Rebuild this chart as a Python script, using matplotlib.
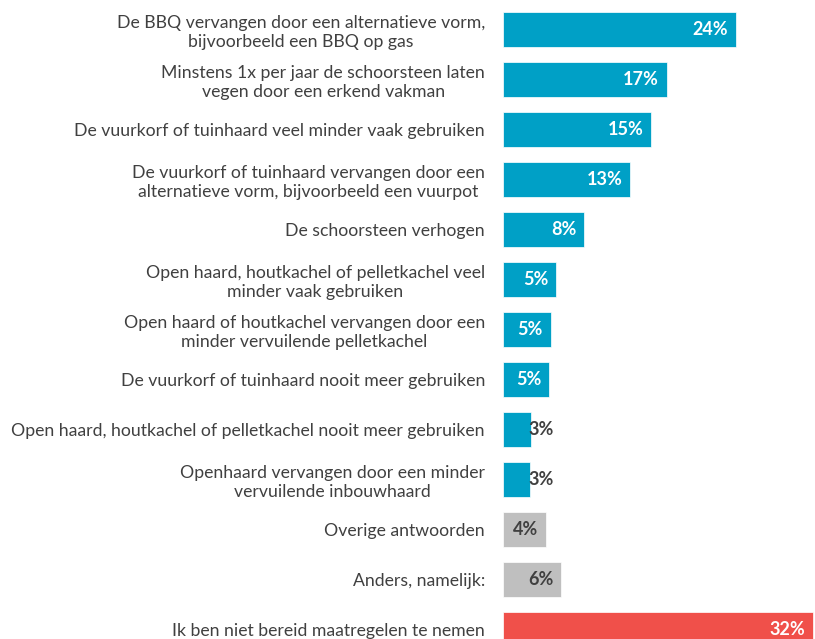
import matplotlib
matplotlib.use("Agg")
import matplotlib.pyplot as plt

categories = [
    "De BBQ vervangen door een alternatieve vorm,\nbijvoorbeeld een BBQ op gas",
    "Minstens 1x per jaar de schoorsteen laten\nvegen door een erkend vakman",
    "De vuurkorf of tuinhaard veel minder vaak gebruiken",
    "De vuurkorf of tuinhaard vervangen door een\nalternatieve vorm, bijvoorbeeld een vuurpot",
    "De schoorsteen verhogen",
    "Open haard, houtkachel of pelletkachel veel\nminder vaak gebruiken",
    "Open haard of houtkachel vervangen door een\nminder vervuilende pelletkachel",
    "De vuurkorf of tuinhaard nooit meer gebruiken",
    "Open haard, houtkachel of pelletkachel nooit meer gebruiken",
    "Openhaard vervangen door een minder\nvervuilende inbouwhaard",
    "Overige antwoorden",
    "Anders, namelijk:",
    "Ik ben niet bereid maatregelen te nemen",
]
values = [24.0, 16.9, 15.3, 13.1, 8.35, 5.45, 4.9, 4.77, 2.9, 2.8, 4.4, 6.0, 32.0]
groups = ["blue"] * 10 + ["gray"] * 2 + ["red"]

BLUE = "#00A0C6"
GRAY = "#BFBFBF"
RED = "#F0504A"
TEXT = "#404040"
colmap = {"blue": BLUE, "gray": GRAY, "red": RED}

FONT = ["Lato", "DejaVu Sans"]
plt.rcParams["font.family"] = FONT

W, H = 815, 639
fig = plt.figure(figsize=(W / 100, H / 100), dpi=100)
x0 = 503 / W
ax = fig.add_axes([x0, 0, 1 - x0, 1])

n = len(values)
ypos = list(range(n))
ax.barh(ypos, values, height=0.7, color=[colmap[g] for g in groups],
        edgecolor="white", linewidth=0.5)

ax.set_xlim(0, (W - 503) / 9.7)
top = -29.5 / 50
ax.set_ylim(top + H / 50, top)

ax.set_yticks(ypos)
ax.set_yticklabels(categories, fontsize=12.7, color=TEXT, linespacing=1.2)
for lbl in ax.get_yticklabels():
    lbl.set_multialignment("center")
ax.tick_params(axis="y", length=0, pad=13)
ax.tick_params(axis="x", bottom=False, labelbottom=False)
for s in ax.spines.values():
    s.set_visible(False)

for i, (v, g) in enumerate(zip(values, groups)):
    small = v < 4
    col = TEXT if (g == "gray" or small) else "white"
    xt = 5.2 if small else v - 0.8
    ax.text(xt, i, f"{round(v)}%", ha="right", va="center", fontsize=13,
            fontweight="bold", color=col)

fig.savefig("out.png", dpi=100)
